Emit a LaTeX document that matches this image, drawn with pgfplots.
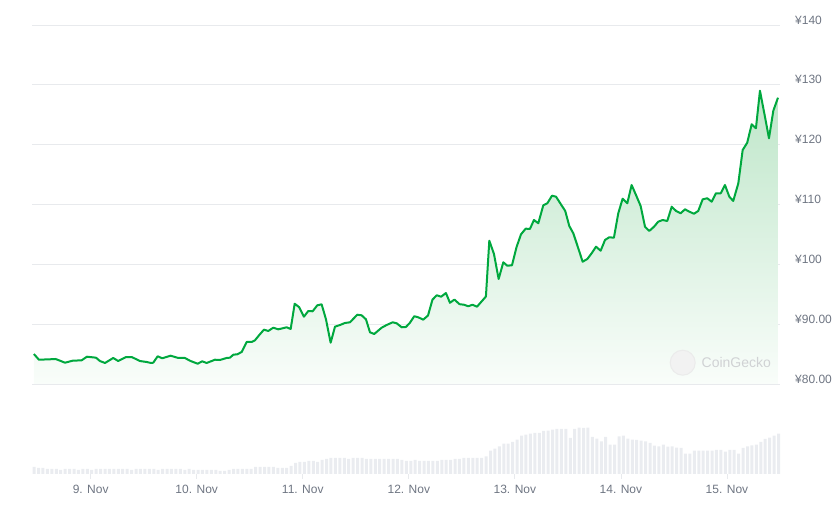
\documentclass[border=0pt]{standalone}
\usepackage{pgfplots}
\pgfplotsset{compat=1.18}
\usepackage{pgfplotstable}
\usepackage{fontspec}
\setmainfont{Liberation Sans}
\definecolor{cggreen}{RGB}{0,168,62}
\definecolor{gridc}{RGB}{232,234,237}
\definecolor{volc}{RGB}{234,236,240}
\definecolor{labc}{RGB}{110,117,130}
\definecolor{fillc}{RGB}{190,230,201}
\definecolor{fillb}{RGB}{249,253,250}
\definecolor{wmc}{RGB}{208,210,212}

\pgfplotstableread{
d p
-0.535 85.01
-0.488 84.06
-0.384 84.13
-0.330 84.18
-0.242 83.56
-0.170 83.89
-0.085 83.96
-0.035 84.56
0.050 84.40
0.088 83.84
0.135 83.51
0.213 84.35
0.260 83.84
0.333 84.51
0.387 84.51
0.465 83.84
0.528 83.68
0.569 83.51
0.590 83.56
0.632 84.63
0.675 84.30
0.754 84.73
0.826 84.35
0.889 84.35
0.936 83.89
1.009 83.39
1.052 83.79
1.094 83.51
1.172 84.06
1.219 84.01
1.282 84.35
1.314 84.40
1.345 84.90
1.382 84.96
1.424 85.35
1.471 87.02
1.518 87.02
1.549 87.30
1.590 88.19
1.634 89.08
1.675 88.86
1.722 89.41
1.769 89.14
1.810 89.31
1.848 89.48
1.886 89.19
1.924 93.42
1.967 92.82
2.011 91.25
2.052 92.20
2.093 92.15
2.137 93.15
2.178 93.32
2.219 90.81
2.263 86.90
2.304 89.58
2.351 89.86
2.398 90.20
2.445 90.31
2.514 91.58
2.555 91.48
2.596 90.81
2.634 88.64
2.674 88.36
2.744 89.41
2.791 89.86
2.848 90.31
2.885 90.15
2.933 89.48
2.973 89.53
3.011 90.25
3.051 91.32
3.089 91.15
3.136 90.75
3.181 91.45
3.223 94.09
3.263 94.83
3.305 94.59
3.350 95.21
3.388 93.57
3.430 94.11
3.478 93.34
3.520 93.25
3.561 92.99
3.600 93.25
3.643 92.92
3.727 94.62
3.759 103.95
3.803 101.73
3.847 97.55
3.891 100.34
3.928 99.77
3.973 99.84
4.017 102.95
4.058 105.02
4.102 105.96
4.142 105.91
4.180 107.41
4.221 106.86
4.268 109.87
4.306 110.20
4.350 111.47
4.388 111.31
4.432 110.09
4.475 108.92
4.513 106.41
4.551 105.19
4.598 102.68
4.639 100.44
4.683 100.89
4.724 101.85
4.765 102.95
4.809 102.28
4.850 104.07
4.890 104.52
4.934 104.45
4.975 108.53
5.016 110.97
5.060 110.20
5.101 113.26
5.142 111.59
5.186 109.75
5.227 106.29
5.267 105.57
5.312 106.29
5.352 107.13
5.394 107.41
5.437 107.24
5.479 109.63
5.520 108.92
5.563 108.53
5.604 109.20
5.645 108.80
5.689 108.46
5.729 108.92
5.771 110.87
5.814 111.04
5.856 110.47
5.896 111.87
5.941 111.87
5.981 113.26
6.022 111.31
6.059 110.59
6.107 113.55
6.148 119.11
6.191 120.33
6.233 123.41
6.273 122.74
6.311 129.02
6.358 124.68
6.396 121.07
6.437 125.68
6.481 127.85
}\price

\pgfplotstableread{
v
7
6
6
5
5
5
4
5
5
5
4
5
5
4
5
5
5
5
5
5
5
5
4
5
5
5
5
5
4
5
5
5
5
5
4
5
4
4
4
4
4
4
3
3
4
5
5
5
5
5
7
7
7
7
7
6
6
6
8
11
12
12
13
13
12
14
15
16
16
16
16
15
16
16
16
15
15
15
15
15
15
15
15
14
13
13
14
13
13
13
13
13
14
14
14
15
15
16
16
16
16
16
17.7
23.3
25.3
27.7
30.3
30.3
32
34.3
38.3
39.3
40.3
41
41
43
43.3
44.3
45
45
45
36
45
46.3
46
46.3
37
35.3
32.7
37
29.3
29.3
37.7
38.3
35.3
34.3
34
33.3
32.7
31
28.3
27.7
29.3
27.3
27.7
26.3
26
20.3
20.3
23.3
23.3
23.3
23.3
23.3
24
24
22.3
24
24
20.3
26
27.7
28.7
29.3
32
35
36.3
38.3
40.3
}\volume

\begin{document}
\begin{tikzpicture}
\useasboundingbox (0pt,0pt) rectangle (839pt,509pt);
% volume axis
\begin{axis}[
  at={(32pt,35pt)}, anchor=south west, scale only axis,
  width=748pt, height=90pt,
  xmin=-0.553, xmax=6.5, ymin=0, ymax=90,
  axis line style={draw=none},
  ytick=\empty,
  xtick={0,1,2,3,4,5,6},
  xticklabels={9. Nov,10. Nov,11. Nov,12. Nov,13. Nov,14. Nov,15. Nov},
  xtick pos=lower, tick align=outside, major tick length=5pt,
  xtick style={draw=gridc, line width=0.8pt},
  xticklabel style={anchor=base, inner sep=0pt, yshift=-15pt, text=labc,
    font=\fontsize{12}{14}\selectfont},
]
\addplot[ybar, bar width=3pt, fill=volc, draw=none]
  table[x expr=\coordindex*0.04178-0.533, y=v] {\volume};
\draw[gridc, line width=0.8pt] (rel axis cs:0,0) -- (rel axis cs:1,0);
\end{axis}
% price axis
\begin{axis}[
  at={(32pt,125pt)}, anchor=south west, scale only axis,
  width=748pt, height=359pt,
  xmin=-0.553, xmax=6.5, ymin=80, ymax=140,
  axis line style={draw=none},
  xtick=\empty,
  ytick={80,90,100,110,120,130,140},
  yticklabels={¥80.00,¥90.00,¥100,¥110,¥120,¥130,¥140},
  yticklabel pos=right, major tick length=0pt,
  ymajorgrids, grid style={draw=gridc, line width=0.8pt},
  yticklabel style={anchor=west, inner sep=0pt, xshift=15pt, yshift=5pt, text=labc,
    font=\fontsize{12}{14}\selectfont},
]
\addplot[top color=fillc, bottom color=fillb, draw=none]
  table[x=d, y=p] {\price} -- (axis cs:6.481,80) -- (axis cs:-0.535,80) -- cycle;
\addplot[cggreen, line width=2pt, line join=round] table[x=d, y=p] {\price};
\end{axis}
% watermark
\fill[black!5, draw=black!8, line width=1pt] (682.7pt,146.3pt) circle (12.5pt);
\node[anchor=west, inner sep=0pt, text=wmc, font=\fontsize{14}{14}\selectfont] at (701.5pt,146.3pt) {CoinGecko};
\end{tikzpicture}
\end{document}
